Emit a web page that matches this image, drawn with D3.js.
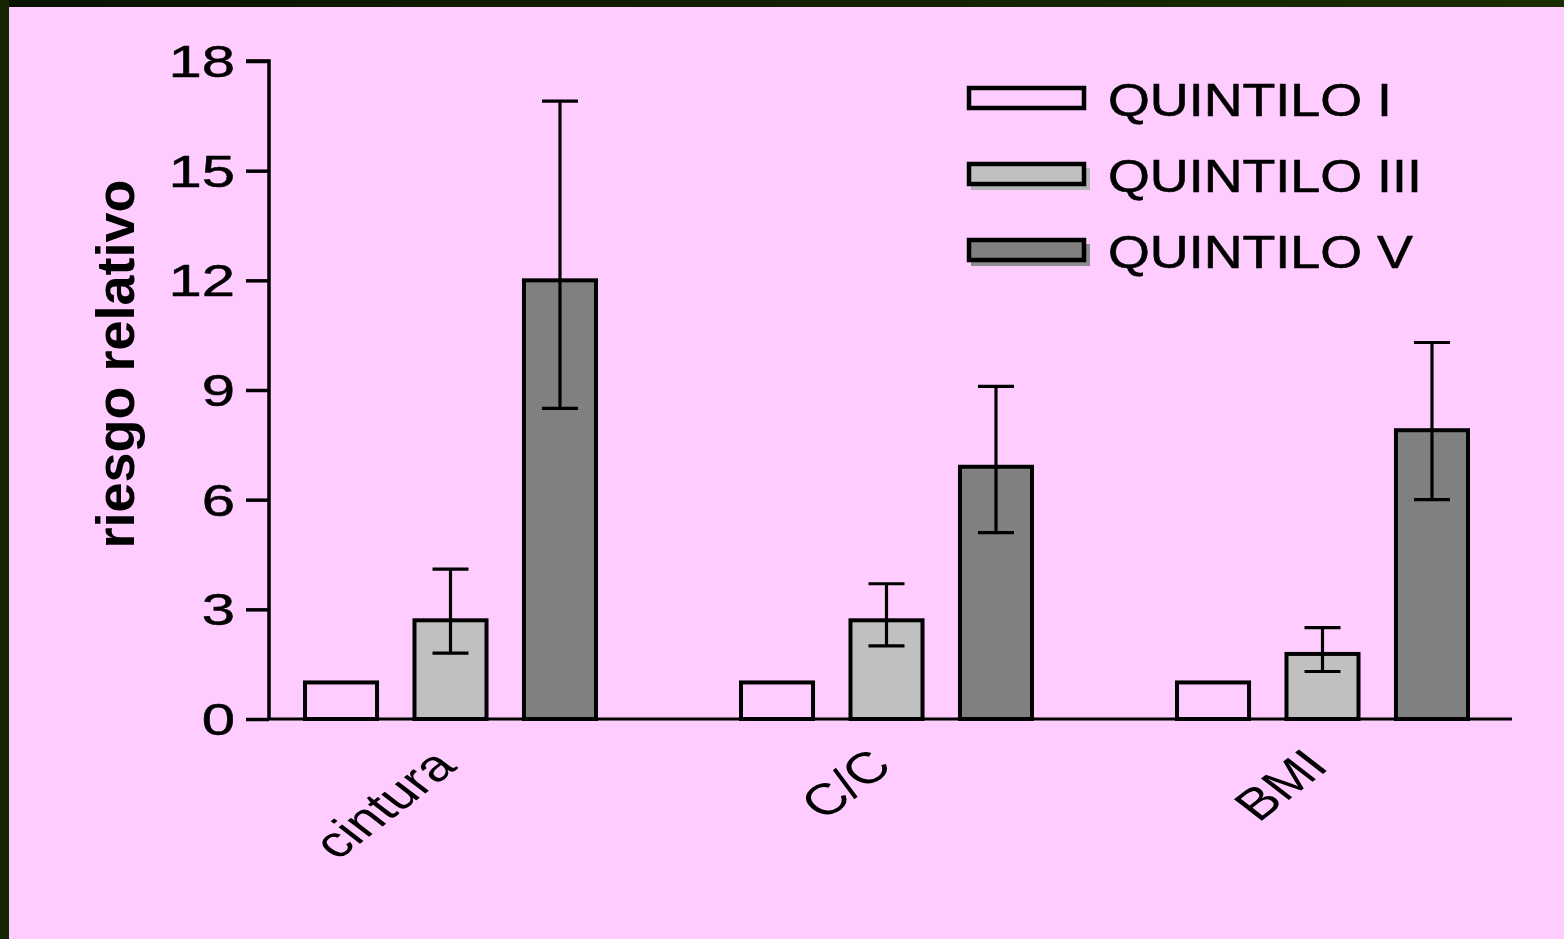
<!DOCTYPE html>
<html>
<head>
<meta charset="utf-8">
<script src="https://cdn.jsdelivr.net/npm/d3@7"></script>
<style>
  html, body { margin: 0; padding: 0; background: #ffccff; }
  svg { display: block; }
  text { font-family: "Liberation Sans", Arial, sans-serif; fill: #000; }
</style>
</head>
<body>
<svg id="chart" width="1564" height="939"></svg>
<script>
// Relative risk by quintile for three anthropometric measures
const categories = ["cintura", "C/C", "BMI"];
const series = ["QUINTILO I", "QUINTILO III", "QUINTILO V"];
const valuesQ1 = [1, 1, 1];
const valuesQ3 = [2.7, 2.7, 1.78];
const valuesQ5 = [12, 6.9, 7.9];
const lowQ3 = [1.8, 2.0, 1.3];
const highQ3 = [4.1, 3.7, 2.5];
const lowQ5 = [8.5, 5.1, 6.0];
const highQ5 = [16.9, 9.1, 10.3];
const yTicks = [0, 3, 6, 9, 12, 15, 18];
const fills = ["none", "#c0c0c0", "#808080"];
const shadows = [null, "#b4b4b4", "#8c8c8c"];

const rows = [];
categories.forEach((c, i) => {
  rows.push({ cat: c, s: series[0], v: valuesQ1[i], lo: null, hi: null });
  rows.push({ cat: c, s: series[1], v: valuesQ3[i], lo: lowQ3[i], hi: highQ3[i] });
  rows.push({ cat: c, s: series[2], v: valuesQ5[i], lo: lowQ5[i], hi: highQ5[i] });
});

const svg = d3.select("#chart");

// dark frame along top and left edges
const defs = svg.append("defs");
const grad = defs.append("linearGradient").attr("id", "frameGrad")
  .attr("x1", "0").attr("x2", "1").attr("y1", "0").attr("y2", "0");
grad.append("stop").attr("offset", "0").attr("stop-color", "#0a1200");
grad.append("stop").attr("offset", "1").attr("stop-color", "#1a2c00");
svg.append("rect").attr("x", 0).attr("y", 0).attr("width", 1564).attr("height", 939).attr("fill", "#ffccff");
svg.append("rect").attr("x", 0).attr("y", 0).attr("width", 1564).attr("height", 7).attr("fill", "url(#frameGrad)");
svg.append("rect").attr("x", 0).attr("y", 0).attr("width", 9).attr("height", 939).attr("fill", "#162600");

const y = d3.scaleLinear().domain([0, 18]).range([719, 61]);
const x0 = d3.scaleBand().domain(categories).range([232.5, 1540.5]).padding(0);
const x1 = d3.scaleBand().domain(series).range([-145.5, 145.5]).paddingInner(0.342).paddingOuter(0);
const fillOf = d3.scaleOrdinal().domain(series).range(fills);
const shadowOf = d3.scaleOrdinal().domain(series).range(shadows);

// y axis
const yAxis = svg.append("g").attr("transform", "translate(269,0)")
  .call(d3.axisLeft(y).tickValues(yTicks).tickSize(23).tickPadding(0).tickFormat(d3.format("d")));
yAxis.select(".domain").attr("stroke", "#000").attr("stroke-width", 3.5).attr("d", `M-23,${y(18)}H0V${y(0)}`);
yAxis.selectAll(".tick line").attr("stroke", "#000").attr("stroke-width", 3.5);
yAxis.selectAll(".tick text")
  .attr("x", 0).attr("dy", 0)
  .attr("font-size", 44).attr("font-family", "Liberation Sans, Arial, sans-serif")
  .attr("text-anchor", "end").attr("dominant-baseline", "central")
  .attr("stroke", "#000").attr("stroke-width", 0.5)
  .attr("transform", "translate(-34,0) scale(1.36,1)");

// x axis baseline
svg.append("line").attr("x1", 269).attr("x2", 1512).attr("y1", y(0)).attr("y2", y(0))
  .attr("stroke", "#000").attr("stroke-width", 3);

// bars
const bars = svg.append("g");
bars.selectAll("rect").data(rows).join("rect")
  .attr("x", d => x0(d.cat) + x0.bandwidth() / 2 + x1(d.s))
  .attr("y", d => y(d.v))
  .attr("width", x1.bandwidth())
  .attr("height", d => y(0) - y(d.v))
  .attr("fill", d => fillOf(d.s))
  .attr("stroke", "#000").attr("stroke-width", 4);

// error bars
const errs = rows.filter(d => d.hi != null);
const cx = d => x0(d.cat) + x0.bandwidth() / 2 + x1(d.s) + x1.bandwidth() / 2;
const eg = svg.append("g").attr("stroke", "#000").attr("stroke-width", 3.2);
eg.selectAll(".stem").data(errs).join("line").attr("class", "stem")
  .attr("x1", cx).attr("x2", cx).attr("y1", d => y(d.hi)).attr("y2", d => y(d.lo));
eg.selectAll(".capHi").data(errs).join("line").attr("class", "capHi")
  .attr("x1", d => cx(d) - 18).attr("x2", d => cx(d) + 18).attr("y1", d => y(d.hi)).attr("y2", d => y(d.hi));
eg.selectAll(".capLo").data(errs).join("line").attr("class", "capLo")
  .attr("x1", d => cx(d) - 18).attr("x2", d => cx(d) + 18).attr("y1", d => y(d.lo)).attr("y2", d => y(d.lo));

// category labels
svg.append("g").selectAll("text").data(categories).join("text")
  .attr("transform", d => `translate(${x0(d) + x0.bandwidth() / 2 + 8},768) scale(1.3,1) rotate(-45)`)
  .attr("text-anchor", "end")
  .attr("font-size", 44)
  .text(d => d);

// y axis title
svg.append("text")
  .attr("transform", "translate(134,364) rotate(-90)")
  .attr("text-anchor", "middle")
  .attr("font-size", 54).attr("font-weight", "bold")
  .text("riesgo relativo");

// legend
const legend = svg.append("g").attr("transform", "translate(967,0)");
const lg = legend.selectAll("g").data(series).join("g")
  .attr("transform", (d, i) => `translate(0,${98 + i * 76})`);
lg.filter(d => shadowOf(d) != null).append("rect")
  .attr("x", 4).attr("y", -6).attr("width", 119).attr("height", 22)
  .attr("fill", d => shadowOf(d));
lg.append("rect")
  .attr("x", 2).attr("y", -10).attr("width", 115).attr("height", 20)
  .attr("fill", d => fillOf(d) === "none" ? "#ffccff" : fillOf(d))
  .attr("stroke", "#000").attr("stroke-width", 4.5);
lg.append("text")
  .attr("transform", "translate(141,18) scale(1.17,1)")
  .attr("font-size", 46)
  .attr("stroke", "#000").attr("stroke-width", 0.6)
  .text(d => d);
</script>
</body>
</html>
